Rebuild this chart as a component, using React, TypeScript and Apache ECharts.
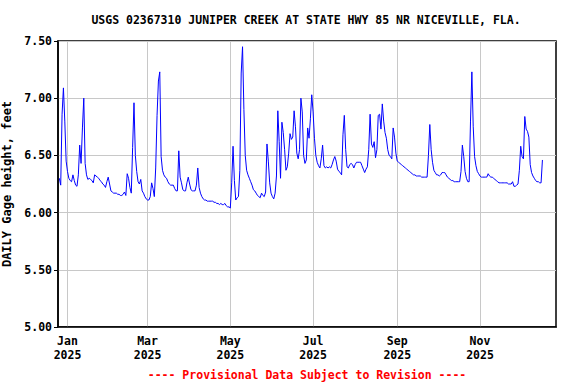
import React, { useEffect, useRef } from "react";
import * as echarts from "echarts";

const TITLE = "USGS 02367310 JUNIPER CREEK AT STATE HWY 85 NR NICEVILLE, FLA.";
const FOOTER = "---- Provisional Data Subject to Revision ----";
const Y_NAME = "DAILY Gage height, feet";

const DAY_MS = 86400000;
const firstDate = "2024-12-26";
const axisStart = "2024-12-25";
const axisEnd = "2025-12-27";

// daily gage height, feet (one value per day starting at firstDate)
const gageHeight = [
  6.30, 6.24, 6.86, 7.09, 6.80, 6.45, 6.36, 6.30, 6.28, 6.27,
  6.33, 6.28, 6.24, 6.23, 6.33, 6.59, 6.43, 6.74, 7.00, 6.43,
  6.33, 6.29, 6.30, 6.29, 6.28, 6.26, 6.33, 6.32, 6.31, 6.30,
  6.28, 6.27, 6.25, 6.24, 6.22, 6.27, 6.31, 6.25, 6.19, 6.18,
  6.17, 6.17, 6.17, 6.16, 6.16, 6.15, 6.15, 6.16, 6.18, 6.15,
  6.34, 6.30, 6.22, 6.17, 6.57, 6.96, 6.50, 6.36, 6.27, 6.25,
  6.29, 6.19, 6.17, 6.14, 6.12, 6.11, 6.11, 6.14, 6.26, 6.21,
  6.14, 6.39, 6.85, 7.15, 7.23, 6.49, 6.37, 6.33, 6.31, 6.30,
  6.27, 6.25, 6.24, 6.24, 6.24, 6.21, 6.19, 6.19, 6.54, 6.31,
  6.26, 6.20, 6.19, 6.19, 6.26, 6.31, 6.25, 6.20, 6.19, 6.19,
  6.19, 6.24, 6.39, 6.22, 6.17, 6.14, 6.12, 6.11, 6.11, 6.10,
  6.10, 6.10, 6.10, 6.10, 6.09, 6.09, 6.08, 6.08, 6.07, 6.08,
  6.07, 6.07, 6.08, 6.06, 6.05, 6.05, 6.04, 6.26, 6.58, 6.28,
  6.11, 6.13, 6.14, 6.37, 7.22, 7.45, 6.90, 6.50, 6.37, 6.33,
  6.30, 6.27, 6.24, 6.20, 6.19, 6.17, 6.15, 6.14, 6.13, 6.17,
  6.15, 6.14, 6.18, 6.60, 6.45, 6.26, 6.17, 6.14, 6.12, 6.17,
  6.32, 6.89, 6.62, 6.30, 6.79, 6.70, 6.55, 6.37, 6.40, 6.52,
  6.69, 6.64, 6.66, 6.89, 6.75, 6.52, 6.47, 6.55, 7.00, 6.88,
  6.50, 6.43, 6.46, 6.74, 6.65, 6.82, 7.03, 6.88, 6.65, 6.50,
  6.44, 6.41, 6.39, 6.47, 6.59, 6.41, 6.39, 6.40, 6.39, 6.40,
  6.39, 6.42, 6.46, 6.49, 6.45, 6.38, 6.36, 6.35, 6.33, 6.68,
  6.85, 6.55, 6.40, 6.39, 6.42, 6.43, 6.42, 6.39, 6.42, 6.44,
  6.44, 6.44, 6.44, 6.41, 6.38, 6.35, 6.38, 6.40, 6.55, 6.86,
  6.60, 6.57, 6.62, 6.48, 6.55, 6.85, 6.86, 6.73, 6.95, 6.80,
  6.70, 6.65, 6.55, 6.50, 6.49, 6.47, 6.74, 6.66, 6.52, 6.45,
  6.44, 6.43, 6.42, 6.41, 6.40, 6.39, 6.38, 6.37, 6.36, 6.35,
  6.34, 6.33, 6.33, 6.32, 6.32, 6.32, 6.32, 6.31, 6.31, 6.31,
  6.31, 6.31, 6.50, 6.77, 6.55, 6.44, 6.37, 6.35, 6.33, 6.33,
  6.32, 6.33, 6.35, 6.35, 6.35, 6.33, 6.31, 6.30, 6.29, 6.28,
  6.28, 6.27, 6.27, 6.27, 6.27, 6.27, 6.36, 6.59, 6.49, 6.36,
  6.30, 6.27, 6.27, 6.80, 7.23, 6.75, 6.49, 6.41, 6.36, 6.34,
  6.32, 6.31, 6.31, 6.31, 6.31, 6.31, 6.34, 6.32, 6.31, 6.31,
  6.30, 6.29, 6.28, 6.27, 6.26, 6.26, 6.26, 6.26, 6.26, 6.26,
  6.26, 6.25, 6.25, 6.25, 6.27, 6.23, 6.23, 6.24, 6.25, 6.37,
  6.58, 6.49, 6.47, 6.84, 6.73, 6.71, 6.66, 6.42, 6.35, 6.32,
  6.30, 6.28, 6.27, 6.27, 6.26, 6.26, 6.46,
];

const tickDates = ["2025-01-01", "2025-03-01", "2025-05-01", "2025-07-01", "2025-09-01", "2025-11-01"];
const tickLabels = ["Jan\n2025", "Mar\n2025", "May\n2025", "Jul\n2025", "Sep\n2025", "Nov\n2025"];

const yMin = 5.0;
const yMax = 7.5;
const yStep = 0.5;

const FONT = "'DejaVu Sans Mono', 'Liberation Mono', monospace";

function ts(d: string): number {
  return Date.parse(d + "T00:00:00Z");
}

export default function App() {
  const ref = useRef<HTMLDivElement>(null);

  useEffect(() => {
    if (!ref.current) return;
    const chart = echarts.init(ref.current, null, { renderer: "svg" });
    const start = ts(firstDate);
    const seriesData = gageHeight.map((v, i) => [start + i * DAY_MS, v]);
    const tickTs = tickDates.map(ts);

    chart.setOption({
      animation: false,
      backgroundColor: "#ffffff",
      textStyle: { fontFamily: FONT },
      grid: {
        left: 58,
        right: 20,
        top: 41,
        bottom: 57,
        containLabel: false,
        outerBoundsMode: "none",
        show: true,
        borderColor: "#000000",
        borderWidth: 1.5,
        backgroundColor: "#ffffff",
      },
      xAxis: {
        type: "value",
        min: ts(axisStart),
        max: ts(axisEnd),
        axisLine: { show: true, lineStyle: { color: "#000000", width: 1.5 } },
        axisTick: { show: false, customValues: tickTs },
        axisLabel: {
          customValues: tickTs,
          formatter: (v: number) => {
            const idx = tickTs.indexOf(v);
            return idx >= 0 ? tickLabels[idx] : "";
          },
          fontFamily: FONT,
          fontWeight: "bold",
          fontSize: 11.5,
          color: "#000000",
          lineHeight: 14,
          margin: 7,
        },
        splitLine: { show: true, lineStyle: { color: "#c8c8c8", width: 1 } },
      },
      yAxis: {
        type: "value",
        min: yMin,
        max: yMax,
        interval: yStep,
        name: Y_NAME,
        nameLocation: "middle",
        nameGap: 37,
        nameTextStyle: {
          fontFamily: FONT,
          fontWeight: "bold",
          fontSize: 12,
          color: "#000000",
        },
        axisLine: { show: true, lineStyle: { color: "#000000", width: 1.5 } },
        axisTick: { show: true, length: 4, lineStyle: { color: "#000000" } },
        axisLabel: {
          formatter: (v: number) => v.toFixed(2),
          fontFamily: FONT,
          fontWeight: "bold",
          fontSize: 11.5,
          color: "#000000",
          margin: 6,
        },
        splitLine: { show: true, lineStyle: { color: "#c8c8c8", width: 1 } },
      },
      graphic: [
        {
          type: "text",
          x: 306,
          y: 20,
          style: {
            text: TITLE,
            fontFamily: FONT,
            fontWeight: "bold",
            fontSize: 11.5,
            fill: "#000000",
            textAlign: "center",
            textVerticalAlign: "middle",
          },
        },
        {
          type: "text",
          x: 307,
          y: 375,
          style: {
            text: FOOTER,
            fontFamily: FONT,
            fontWeight: "bold",
            fontSize: 11.5,
            fill: "#ff0000",
            textAlign: "center",
            textVerticalAlign: "middle",
          },
        },
      ],
      series: [
        {
          type: "line",
          data: seriesData,
          showSymbol: false,
          symbol: "none",
          lineStyle: { color: "#0000ff", width: 1 },
          clip: true,
        },
      ],
    });

    return () => {
      chart.dispose();
    };
  }, []);

  return (
    <div
      ref={ref}
      style={{ position: "fixed", left: 0, top: 0, width: 576, height: 384, background: "#ffffff" }}
    />
  );
}
